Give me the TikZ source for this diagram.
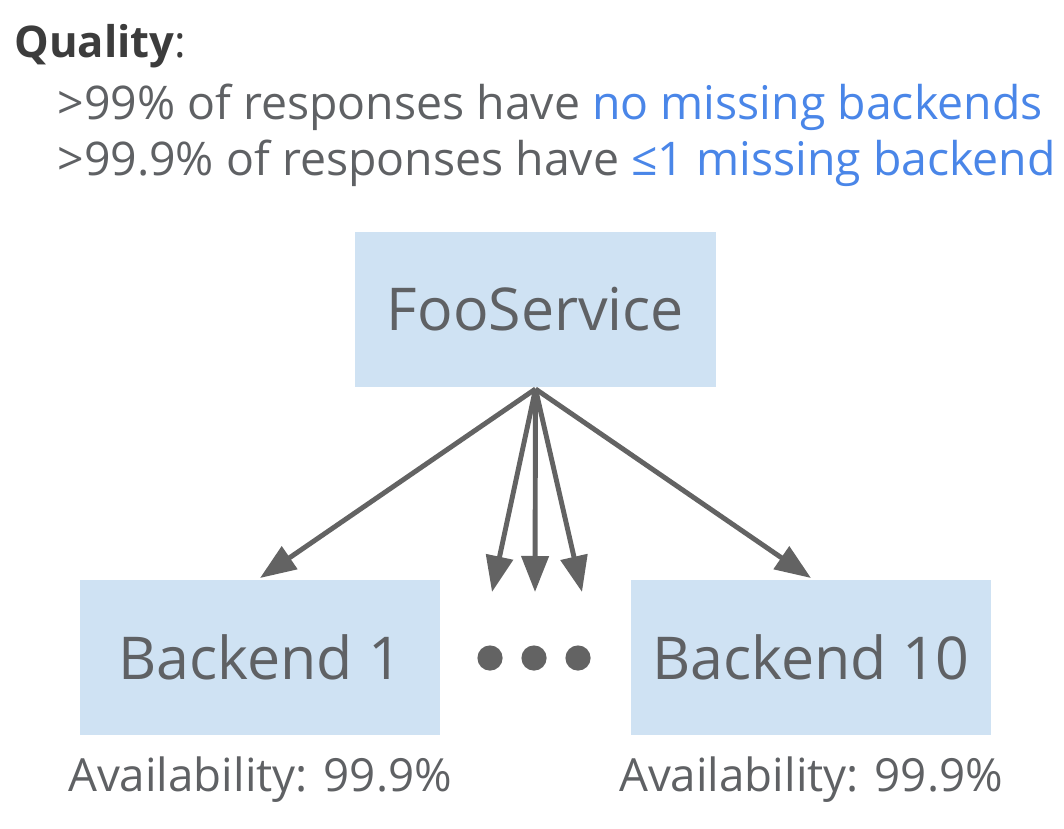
\documentclass[tikz,border=0pt]{standalone}
\usepackage{fontspec}
\setmainfont{Open Sans}
\usetikzlibrary{arrows.meta,positioning}

\definecolor{boxblue}{HTML}{CFE2F3}
\definecolor{txtgray}{HTML}{5F6164}
\definecolor{headgray}{HTML}{3C3C3C}
\definecolor{hlblue}{HTML}{4A86E8}
\definecolor{arrowgray}{HTML}{636363}

\begin{document}
\begin{tikzpicture}[x=0.025cm,y=-0.025cm,->,>={Triangle[length=0.9cm,width=0.67cm]},line width=3.5pt,draw=arrowgray]
\tikzstyle{box}=[fill=boxblue,text=txtgray,inner sep=0pt,minimum width=9cm,minimum height=3.85cm,font=\fontsize{42}{50}\selectfont]
\tikzstyle{line}=[anchor=base west,inner sep=0pt,text=txtgray,font=\fontsize{33}{40}\selectfont]
\tikzstyle{avail}=[anchor=base,inner sep=0pt,text=txtgray,font=\fontsize{32.5}{39}\selectfont]
\tikzstyle{dot}=[circle,fill=arrowgray,draw=none,inner sep=0pt,minimum size=0.63cm]
\path[use as bounding box] (0,0) rectangle (1064,828);

% header
\node[line,text=headgray,font=\fontsize{31}{37}\selectfont] (QL) at (12,58) {{\bfseries Quality}:};
\node[line] (L1) at (55,119) {>99\% of responses have \textcolor{hlblue}{no missing backends}};
\node[line] (L2) at (55,175) {>99.9\% of responses have \textcolor{hlblue}{≤1 missing backend}};

% service and backends
\node[box] (FS) at (535.5,309.5) {FooService};
\node[box] (B1) at (260,657.5) {Backend 1};
\node[box] (B10) at (811,657.5) {Backend 10};
\node[dot] (D1) at (490,658) {};
\node[dot] (D2) at (534,658) {};
\node[dot] (D3) at (578,658) {};

\coordinate (fan) at (FS.south);
\coordinate (M1) at (492,592);
\coordinate (M2) at (535,592);
\coordinate (M3) at (582,592);
\path (fan) edge (B1.north)
            edge (M1)
            edge (M2)
            edge (M3)
            edge (B10.north);

\node[avail] (A1) at (260,791) {Availability: 99.9\%};
\node[avail] (A10) at (811,791) {Availability: 99.9\%};
\end{tikzpicture}
\end{document}
